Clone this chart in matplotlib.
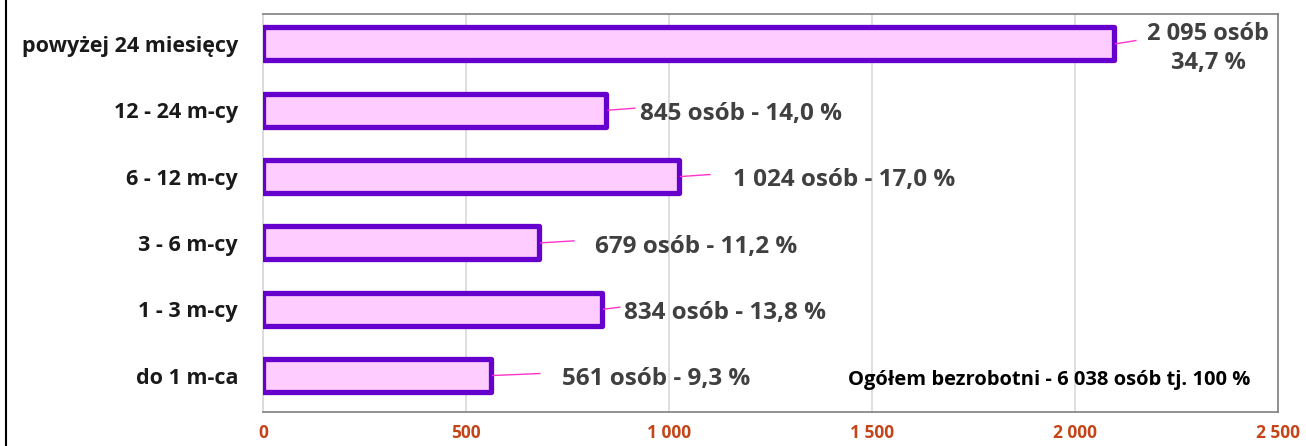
import matplotlib
matplotlib.use("Agg")
import matplotlib.pyplot as plt
from matplotlib.lines import Line2D

categories = ["do 1 m-ca", "1 - 3 m-cy", "3 - 6 m-cy", "6 - 12 m-cy", "12 - 24 m-cy", "powyżej 24 miesięcy"]
values = [561, 834, 679, 1024, 845, 2095]
percents = ["9,3 %", "13,8 %", "11,2 %", "17,0 %", "14,0 %", "34,7 %"]
value_labels = ["561", "834", "679", "1 024", "845", "2 095"]
# label anchor positions (data x) and leader line end
label_x = [736, 889, 818, 1158, 928, 2328]
leader_end = [682, 879, 766, 1101, 916, 2150]
xticks = [0, 500, 1000, 1500, 2000, 2500]
xtick_labels = ["0", "500", "1 000", "1 500", "2 000", "2 500"]
total_text = "Ogółem bezrobotni - 6 038 osób tj. 100 %"

plt.rcParams['font.family'] = ['Open Sans', 'DejaVu Sans']

fig = plt.figure(figsize=(13.06, 4.46), dpi=100)
ax = fig.add_axes([263/1306, 1-412/446, (1278-263)/1306, (412-14)/446])

y = list(range(len(categories)))
bars = ax.barh(y, values, height=0.5, color="#FFCCFF", edgecolor="#6600CC", linewidth=3.8, zorder=3)
for b in bars:
    b.set_joinstyle("round")
ax.set_xlim(0, 2500)
ax.set_ylim(-0.55, 5.45)
ax.set_xticks(xticks)
ax.set_xticklabels(xtick_labels, color="#C5451A", fontsize=12.5, fontweight="bold")
ax.set_yticks(y)
ax.set_yticklabels(categories, fontsize=15.5, fontweight="bold", color="#1a1a1a")
ax.tick_params(axis="y", length=0, pad=18)
ax.tick_params(axis="x", length=0, pad=9)
ax.xaxis.grid(True, color="#D9D9D9", linewidth=1.2, zorder=0)
for s in ax.spines.values():
    s.set_color("#7F7F7F")
    s.set_linewidth(1.2)
ax.spines["left"].set_color("#D9D9D9")

for i, v in enumerate(values):
    if i == 5:
        ax.plot([v + 5, leader_end[i]], [i, i + 0.05], color="#FF33CC", linewidth=1, zorder=4)
        ax.text(label_x[i], i - 0.07, value_labels[i] + " osób\n" + percents[i], ha="center", va="center",
                fontsize=17, fontweight="bold", color="#404040", linespacing=1.3)
    else:
        ax.plot([v + 5, leader_end[i]], [i, i + 0.03], color="#FF33CC", linewidth=1, zorder=4)
        ax.text(label_x[i], i - 0.06, value_labels[i] + " osób - " + percents[i], ha="left", va="center",
                fontsize=17.5, fontweight="bold", color="#404040")

ax.text(0.973, 0.08, total_text, transform=ax.transAxes, ha="right", va="center",
        fontsize=14.5, fontweight="bold", color="#000000")

fig.add_artist(Line2D([6/1306, 6/1306], [0, 1], color="black", linewidth=1.5, transform=fig.transFigure))

fig.savefig("out.png", dpi=100)
